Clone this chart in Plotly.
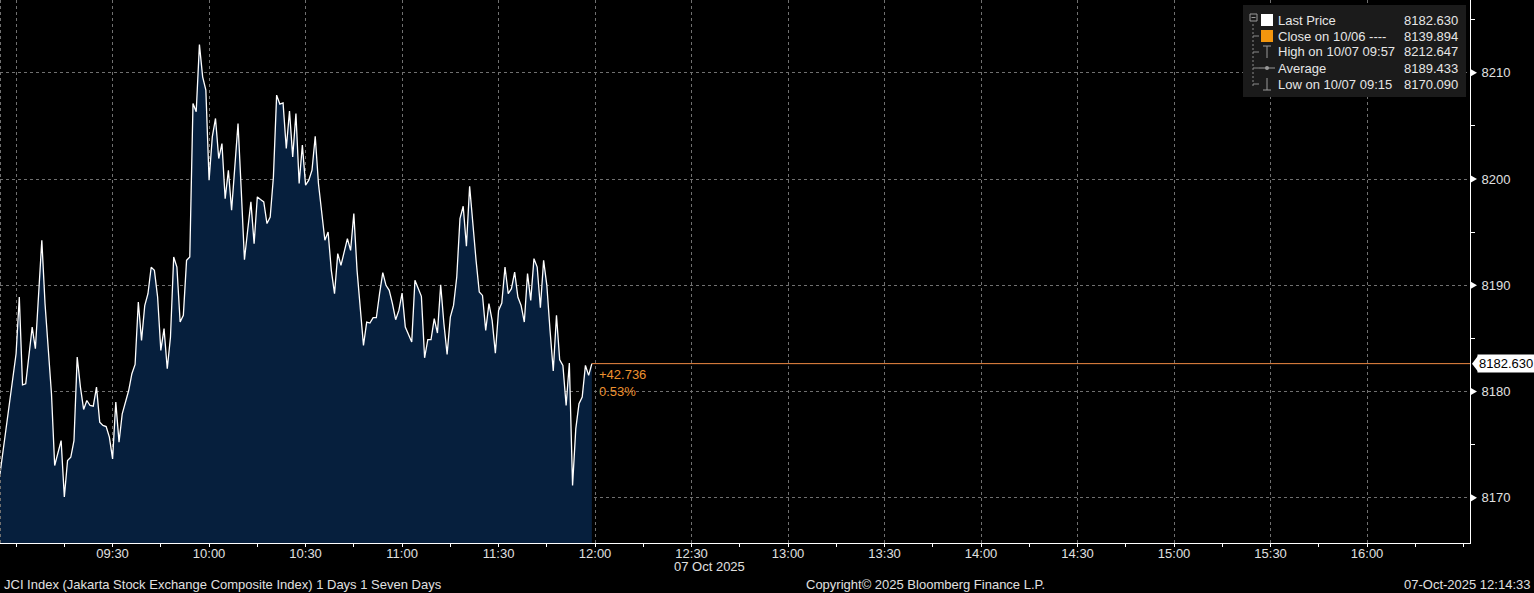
import plotly.graph_objects as go
import pandas as pd

# ---------------- data ----------------
start_time = "2025-10-07 08:55"
prices = [
    8172.25, 8174.45, 8176.65, 8179.01, 8181.36, 8183.56, 8188.90, 8180.64, 8180.73, 8183.56,
    8186.07, 8184.03, 8189.21, 8194.24, 8188.27, 8184.19, 8179.79, 8173.04, 8174.14, 8175.39,
    8170.09, 8173.51, 8173.82, 8175.39, 8183.25, 8180.42, 8178.32, 8179.16, 8178.69, 8178.63,
    8180.42, 8177.12, 8176.81, 8176.71, 8175.71, 8173.67, 8179.01, 8175.24, 8177.91, 8179.01,
    8180.10, 8181.68, 8182.55, 8188.43, 8184.82, 8188.10, 8189.21, 8191.70, 8191.41, 8188.90,
    8183.87, 8185.92, 8182.15, 8185.13, 8192.67, 8191.72, 8186.54, 8187.17, 8192.35, 8192.67,
    8207.11, 8206.33, 8212.65, 8209.62, 8208.37, 8199.89, 8203.97, 8205.70, 8201.93, 8203.34,
    8198.16, 8200.83, 8197.06, 8201.15, 8205.23, 8198.95, 8192.42, 8195.18, 8197.85, 8193.92,
    8198.32, 8198.07, 8197.85, 8195.81, 8196.43, 8200.20, 8207.90, 8207.05, 8207.17, 8202.87,
    8206.40, 8202.09, 8206.17, 8199.58, 8203.19, 8199.42, 8199.89, 8200.83, 8204.03, 8199.58,
    8196.75, 8194.24, 8195.02, 8191.41, 8189.21, 8192.98, 8191.88, 8193.29, 8194.39, 8193.29,
    8196.75, 8191.41, 8187.64, 8184.35, 8186.54, 8186.45, 8186.95, 8186.95, 8189.21, 8191.19,
    8190.00, 8189.53, 8188.27, 8186.76, 8187.64, 8189.27, 8186.07, 8185.44, 8184.66, 8190.47,
    8189.68, 8188.96, 8183.18, 8184.88, 8184.88, 8186.86, 8185.51, 8190.05, 8186.40, 8183.50,
    8187.01, 8188.11, 8190.78, 8196.28, 8197.44, 8193.67, 8199.32, 8195.49, 8192.35, 8189.37,
    8189.05, 8185.76, 8188.27, 8186.70, 8183.62, 8187.64, 8188.33, 8191.72, 8189.21, 8189.68,
    8191.25, 8188.90, 8188.11, 8186.54, 8191.10, 8188.58, 8192.51, 8191.72, 8187.89, 8192.35,
    8190.00, 8185.76, 8181.93, 8187.17, 8182.99, 8182.46, 8178.69, 8182.68, 8171.16, 8176.49,
    8178.85, 8179.48, 8182.46, 8181.52, 8182.63,
]
times = pd.date_range(start_time, periods=len(prices), freq="1min")

last_price = 8182.630
prev_close = 8139.894
high_val, high_time = 8212.647, "10/07 09:57"
avg_val = 8189.433
low_val, low_time = 8170.090, "10/07 09:15"

y_ticks = [8170, 8180, 8190, 8200, 8210]
x_tick_times = ["09:00", "09:30", "10:00", "10:30", "11:00", "11:30", "12:00", "12:30",
                "13:00", "13:30", "14:00", "14:30", "15:00", "15:30", "16:00"]
x_tick_labels = ["", "09:30", "10:00", "10:30", "11:00", "11:30", "12:00", "12:30",
                 "13:00", "13:30", "14:00", "14:30", "15:00", "15:30", "16:00"]
x_range = ["2025-10-07 08:55", "2025-10-07 16:32"]
y_range = [8165.75, 8216.85]

# ---------------- styling ----------------
FONT = "Liberation Sans"
W, H = 1534, 593
ML, MR, MT, MB = 0, 64, 0, 50
PW, PH = W - ML - MR, H - MT - MB
GRID = "#707070"
FILL = "#061f3d"
ORANGE = "#ef8a43"
ORANGE_TXT = "#ee922f"
TXT = "#e0e0e0"


def px(x):
    return (x - ML) / PW


def py(y):
    return 1 - (y - MT) / PH


fig = go.Figure()
fig.add_trace(go.Scatter(
    x=times, y=prices, mode="lines",
    line=dict(color="white", width=1.3),
    fill="tozeroy", fillcolor=FILL,
    hoverinfo="skip", showlegend=False,
))
# last price line extending to the right
fig.add_trace(go.Scatter(
    x=[times[-1], pd.Timestamp(x_range[1])], y=[prices[-1], prices[-1]],
    mode="lines", line=dict(color=ORANGE, width=1),
    hoverinfo="skip", showlegend=False,
))

tickvals_x = [pd.Timestamp("2025-10-07 " + t) for t in x_tick_times]

fig.update_layout(
    width=W, height=H,
    margin=dict(l=ML, r=MR, t=MT, b=MB),
    paper_bgcolor="black", plot_bgcolor="black",
    font=dict(family=FONT, size=13, color=TXT),
    showlegend=False,
    xaxis=dict(
        range=x_range, tickvals=tickvals_x, ticktext=x_tick_labels,
        showgrid=True, gridcolor=GRID, griddash="3px,3px", gridwidth=1,
        showline=True, linecolor="white", linewidth=1,
        ticks="outside", ticklen=3, tickcolor="white",
        ticklabelstandoff=-5,
        minor=dict(dtick=15 * 60 * 1000, tick0="2025-10-07 09:00", ticks="outside",
                   ticklen=3, tickcolor="white", showgrid=False),
        tickfont=dict(family=FONT, size=13, color=TXT),
        zeroline=False, fixedrange=True,
    ),
    yaxis=dict(
        range=y_range, side="right", tickvals=y_ticks,
        ticktext=[str(v) for v in y_ticks],
        showgrid=True, gridcolor=GRID, griddash="3px,3px", gridwidth=1,
        showline=True, linecolor="white", linewidth=1,
        ticks="outside", ticklen=8, tickcolor="rgba(0,0,0,0)",
        minor=dict(dtick=5, tick0=8165, ticks="outside", ticklen=4,
                   tickcolor="white", showgrid=False),
        tickfont=dict(family=FONT, size=13, color=TXT),
        zeroline=False, fixedrange=True,
    ),
)

shapes = []
# left dashed border
shapes.append(dict(type="line", xref="paper", yref="paper", x0=px(0.5), x1=px(0.5), y0=0, y1=1,
                   line=dict(color=GRID, width=1, dash="3px,3px")))
# triangle markers at y tick labels
tri_w = 7 / PW
for v in y_ticks:
    shapes.append(dict(type="path", xref="paper", yref="y",
                       path=f"M 1 {v + 0.38} L {1 + tri_w} {v} L 1 {v - 0.38} Z",
                       fillcolor="white", line=dict(width=0)))
# price tag pointer
shapes.append(dict(type="path", xref="paper", yref="y",
                   path=f"M {px(1472)} {last_price} L {px(1478)} {last_price + 0.75} "
                        f"L {px(1478)} {last_price - 0.75} Z",
                   fillcolor="white", line=dict(width=0)))
# legend box
shapes.append(dict(type="rect", xref="paper", yref="paper",
                   x0=px(1243), x1=px(1466), y0=py(97), y1=py(5),
                   fillcolor="#1b1b1b", line=dict(width=0), layer="above"))
# legend tree lines
shapes.append(dict(type="line", xref="paper", yref="paper", x0=px(1253), x1=px(1253),
                   y0=py(24), y1=py(86), line=dict(color="#8a8a8a", width=1, dash="2px,2px"),
                   layer="above"))
for yy in [36, 52, 68, 84]:
    shapes.append(dict(type="line", xref="paper", yref="paper", x0=px(1253), x1=px(1259),
                       y0=py(yy), y1=py(yy), line=dict(color="#8a8a8a", width=1),
                       layer="above"))
# collapse box
shapes.append(dict(type="rect", xref="paper", yref="paper", x0=px(1250), x1=px(1257),
                   y0=py(21), y1=py(14), line=dict(color="#9a9a9a", width=1),
                   fillcolor="#1b1b1b", layer="above"))
shapes.append(dict(type="line", xref="paper", yref="paper", x0=px(1251.5), x1=px(1255.5),
                   y0=py(17.5), y1=py(17.5), line=dict(color="#9a9a9a", width=1), layer="above"))
# legend swatches
shapes.append(dict(type="rect", xref="paper", yref="paper", x0=px(1261), x1=px(1273),
                   y0=py(26), y1=py(14), fillcolor="white", line=dict(width=0), layer="above"))
shapes.append(dict(type="rect", xref="paper", yref="paper", x0=px(1261), x1=px(1273),
                   y0=py(42), y1=py(30), fillcolor="#f3960e", line=dict(width=0), layer="above"))
# high icon (T)
shapes.append(dict(type="line", xref="paper", yref="paper", x0=px(1263), x1=px(1271),
                   y0=py(46), y1=py(46), line=dict(color="#9a9a9a", width=1), layer="above"))
shapes.append(dict(type="line", xref="paper", yref="paper", x0=px(1267), x1=px(1267),
                   y0=py(46), y1=py(58), line=dict(color="#9a9a9a", width=1), layer="above"))
# average icon
shapes.append(dict(type="line", xref="paper", yref="paper", x0=px(1259), x1=px(1275),
                   y0=py(68), y1=py(68), line=dict(color="#9a9a9a", width=1), layer="above"))
shapes.append(dict(type="circle", xref="paper", yref="paper", x0=px(1265), x1=px(1269),
                   y0=py(70), y1=py(66), fillcolor="#9a9a9a", line=dict(width=0), layer="above"))
# low icon
shapes.append(dict(type="line", xref="paper", yref="paper", x0=px(1263), x1=px(1271),
                   y0=py(90), y1=py(90), line=dict(color="#9a9a9a", width=1), layer="above"))
shapes.append(dict(type="line", xref="paper", yref="paper", x0=px(1267), x1=px(1267),
                   y0=py(78), y1=py(90), line=dict(color="#9a9a9a", width=1), layer="above"))
fig.update_layout(shapes=shapes)

ann = []
legend_rows = [
    ("Last Price", f"{last_price:.3f}"),
    ("Close on 10/06 ----", f"{prev_close:.3f}"),
    (f"High on {high_time}", f"{high_val:.3f}"),
    ("Average", f"{avg_val:.3f}"),
    (f"Low on {low_time}", f"{low_val:.3f}"),
]
for k, (lab, val) in enumerate(legend_rows):
    yy = 20 + 16 * k
    ann.append(dict(xref="paper", yref="paper", x=px(1276), y=py(yy), text=lab,
                    xanchor="left", yanchor="middle", showarrow=False,
                    font=dict(family=FONT, size=13, color="#e6e6e6")))
    ann.append(dict(xref="paper", yref="paper", x=px(1460), y=py(yy), text=val,
                    xanchor="right", yanchor="middle", showarrow=False,
                    font=dict(family=FONT, size=13, color="#e6e6e6")))

chg = last_price - prev_close
pct = chg / prev_close * 100
ann.append(dict(xref="x", yref="y", x=times[-1], y=prices[-1], xshift=5, yshift=-1,
                text=f"+{chg:.3f}<br>{pct:.2f}%", xanchor="left", yanchor="top",
                align="left", showarrow=False,
                font=dict(family=FONT, size=13, color=ORANGE_TXT)))
# price tag
ann.append(dict(xref="paper", yref="y", x=px(1477), y=last_price, text=f"{last_price:.3f}",
                xanchor="left", yanchor="middle", showarrow=False, bgcolor="white",
                borderpad=1, font=dict(family=FONT, size=13, color="black")))
# date under axis
ann.append(dict(xref="x", yref="paper", x=pd.Timestamp("2025-10-07 12:30"), y=py(566),
                xshift=-20, text="07 Oct 2025", xanchor="left", yanchor="middle",
                showarrow=False, font=dict(family=FONT, size=13, color=TXT)))
# footer
ann.append(dict(xref="paper", yref="paper", x=px(2), y=py(584),
                text="JCI Index (Jakarta Stock Exchange Composite Index) 1 Days 1 Seven Days",
                xanchor="left", yanchor="middle", showarrow=False,
                font=dict(family=FONT, size=13, color=TXT)))
ann.append(dict(xref="paper", yref="paper", x=px(925), y=py(584),
                text="Copyright\u00a9 2025 Bloomberg Finance L.P.",
                xanchor="center", yanchor="middle", showarrow=False,
                font=dict(family=FONT, size=13, color=TXT)))
ann.append(dict(xref="paper", yref="paper", x=px(1532), y=py(584),
                text="07-Oct-2025 12:14:33",
                xanchor="right", yanchor="middle", showarrow=False,
                font=dict(family=FONT, size=13, color=TXT)))
fig.update_layout(annotations=ann)

fig.write_html(
    "out.html",
    config={"displayModeBar": False, "staticPlot": True},
    post_script="document.body.style.margin='0';document.body.style.padding='0';"
                "document.body.style.overflow='hidden';",
)
